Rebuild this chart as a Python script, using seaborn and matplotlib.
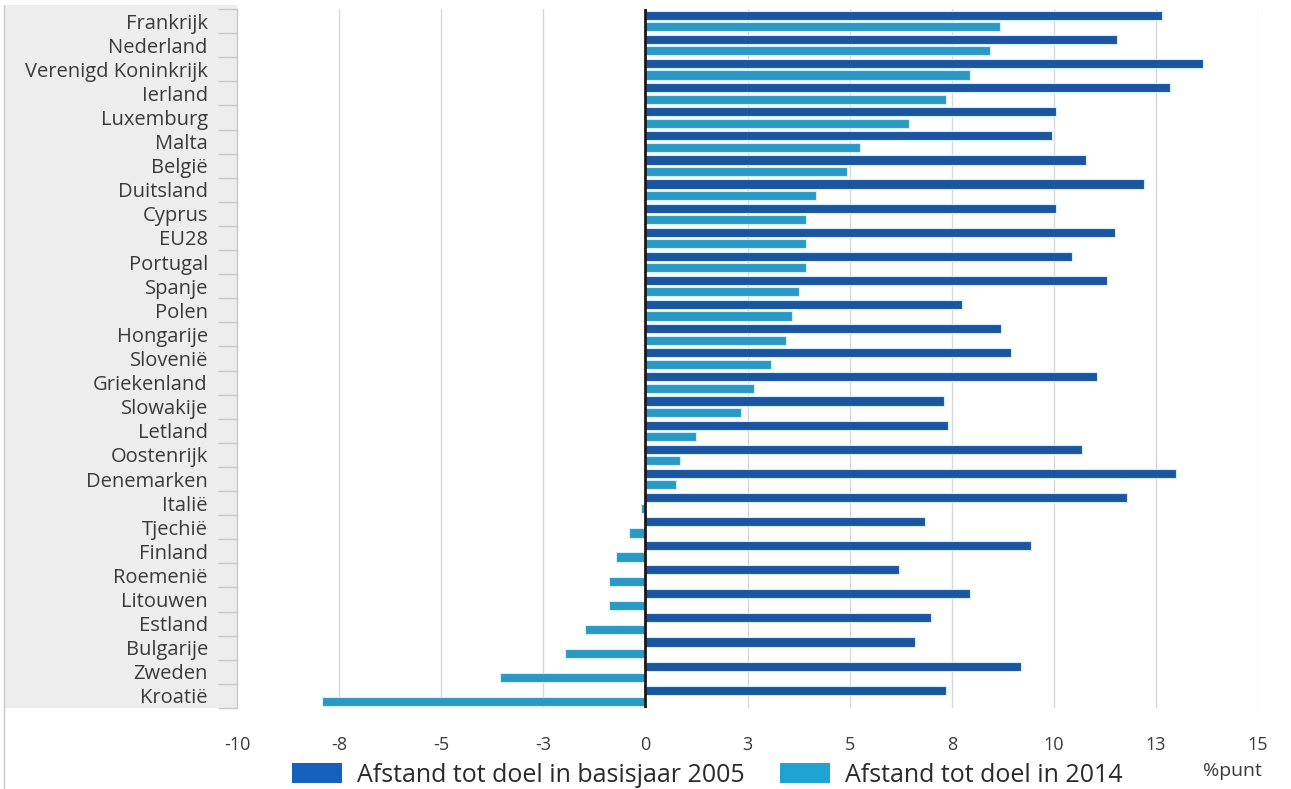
import numpy as np
import pandas as pd
import matplotlib
matplotlib.use("Agg")
import matplotlib.pyplot as plt
from matplotlib.patches import Rectangle, Patch
from matplotlib.lines import Line2D
import seaborn as sns

landen = ["Frankrijk", "Nederland", "Verenigd Koninkrijk", "Ierland", "Luxemburg",
          "Malta", "België", "Duitsland", "Cyprus", "EU28", "Portugal", "Spanje",
          "Polen", "Hongarije", "Slovenië", "Griekenland", "Slowakije", "Letland",
          "Oostenrijk", "Denemarken", "Italië", "Tjechië", "Finland", "Roemenië",
          "Litouwen", "Estland", "Bulgarije", "Zweden", "Kroatië"]
afstand_2005 = [12.65, 11.55, 13.65, 12.85, 10.05, 9.95, 10.8, 12.2, 10.05, 11.5,
                10.45, 11.3, 7.75, 8.7, 8.95, 11.05, 7.3, 7.4, 10.7, 13.0,
                11.8, 6.85, 9.45, 6.2, 7.95, 7.0, 6.6, 9.2, 7.35]
afstand_2014 = [8.68, 8.44, 7.94, 7.35, 6.45, 5.26, 4.94, 4.17, 3.94, 3.94,
                3.94, 3.76, 3.58, 3.45, 3.08, 2.67, 2.35, 1.25, 0.85, 0.75,
                -0.1, -0.39, -0.71, -0.89, -0.89, -1.48, -1.97, -3.57, -7.93]
reeksen = ["Afstand tot doel in basisjaar 2005", "Afstand tot doel in 2014"]
xtick_waarden = [-10, -7.5, -5, -2.5, 0, 2.5, 5, 7.5, 10, 12.5, 15]
xtick_labels = ["-10", "-8", "-5", "-3", "0", "3", "5", "8", "10", "13", "15"]
eenheid = "%punt"

df = pd.DataFrame({
    "land": landen * 2,
    "waarde": afstand_2005 + afstand_2014,
    "reeks": [reeksen[0]] * len(landen) + [reeksen[1]] * len(landen),
})

sns.set_theme(style="white")
plt.rcParams["font.family"] = ["Open Sans", "DejaVu Sans"]

W, H = 1291, 789
fig = plt.figure(figsize=(W / 100, H / 100), dpi=100)
fig.patch.set_facecolor("white")

# grey label panel
fig.patches.append(Rectangle((5 / W, 1 - 708 / H), (237 - 5) / W, (708 - 5) / H,
                             transform=fig.transFigure, facecolor="#EDEDED",
                             edgecolor="none", zorder=-5))
fig.lines.append(Line2D([4 / W, 4 / W], [0, 1 - 5 / H], transform=fig.transFigure,
                        color="#C8C8C8", lw=1, zorder=-4))

ax = fig.add_axes([237 / W, 1 - 708 / H, (1258 - 237) / W, (708 - 9) / H])
ax.set_facecolor("none")
ax.set_zorder(2)

dark = "#1B55A0"
light = "#2A9AC4"
sns.barplot(data=df, y="land", x="waarde", hue="reeks", orient="h",
            palette=[dark, light], width=0.95, gap=0.2, ax=ax, legend=False,
            edgecolor="#CFEFFF", linewidth=0.8, saturation=1, zorder=3)

ax.set_xlim(-10, 15)
ax.set_ylim(len(landen) - 0.5, -0.5)
ax.set_xticks(xtick_waarden)
ax.set_xticklabels(xtick_labels)
ax.set_xlabel("")
ax.set_ylabel("")
for v in xtick_waarden[1:]:
    ax.axvline(v, color="#D9D9D9", lw=1, zorder=1)
ax.axvline(0, color="#1A1A1A", lw=2, zorder=4)

for s in ["top", "right", "bottom"]:
    ax.spines[s].set_visible(False)
ax.spines["left"].set_color("#C8C8C8")
ax.spines["left"].set_linewidth(1)

ax.set_yticks(np.arange(-0.5, len(landen), 1), minor=True)
ax.tick_params(axis="y", which="minor", length=14, width=1, color="#C8C8C8",
               direction="out", left=True)
ax.tick_params(axis="y", which="major", length=0, pad=21, labelsize=14.5,
               labelcolor="#3A3A3A")
ax.tick_params(axis="x", length=0, pad=20, labelsize=13, labelcolor="#3A3A3A")

handles = [Patch(facecolor="#1560BA", edgecolor="none"),
           Patch(facecolor="#1FA3D2", edgecolor="none")]
fig.legend(handles, reeksen, loc="center left", bbox_to_anchor=(292 / W, 1 - 775 / H),
           ncol=2, frameon=False, fontsize=18, handlelength=2.0, handleheight=0.85,
           handletextpad=0.6, columnspacing=1.4, borderpad=0, borderaxespad=0,
           labelcolor="#2A2A2A")
fig.text(1232 / W, 1 - 771 / H, eenheid, ha="center", va="center", fontsize=14,
         color="#3A3A3A")

fig.savefig("out.png", dpi=100)
